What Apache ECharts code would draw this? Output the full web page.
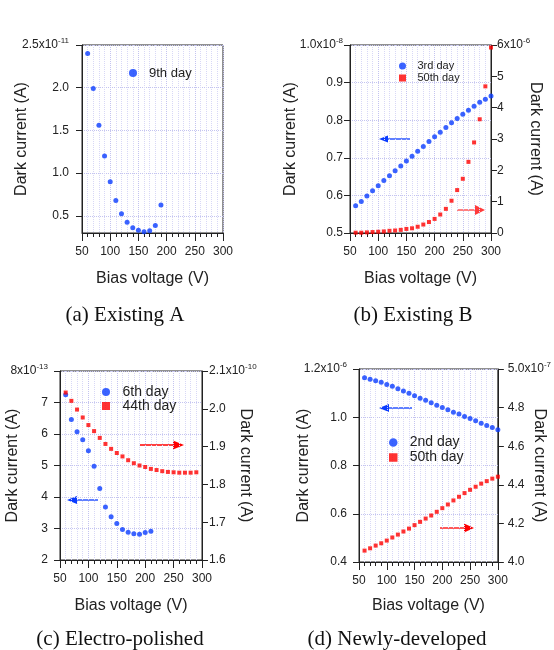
<!DOCTYPE html>
<html>
<head>
<meta charset="utf-8">
<script src="https://cdn.jsdelivr.net/npm/echarts@6/dist/echarts.min.js"></script>
<style>
  html, body { margin: 0; padding: 0; background: #fff; }
  #chart { width: 554px; height: 650px; }
</style>
</head>
<body>
<div id="chart"></div>
<script>
// (a) Existing A
const voltsA = [60, 70, 80, 90, 100, 110, 120, 130, 140, 150, 160, 170, 180, 190];
const day9 = [2.40, 1.99, 1.56, 1.20, 0.90, 0.68, 0.525, 0.427, 0.362, 0.331, 0.315, 0.327, 0.388, 0.627];

// (b) Existing B
const voltsB = [60, 70, 80, 90, 100, 110, 120, 130, 140, 150, 160, 170, 180, 190, 200,
  210, 220, 230, 240, 250, 260, 270, 280, 290, 300];
const day3 = [0.5726, 0.5841, 0.5982, 0.6124, 0.6257, 0.6398, 0.6522, 0.6655, 0.6779, 0.6912,
  0.7044, 0.7177, 0.7301, 0.7434, 0.7558, 0.7681, 0.7805, 0.7929, 0.8044, 0.8159,
  0.8265, 0.8372, 0.8478, 0.8558, 0.8646];
const day50B = [0.01, 0.01, 0.02, 0.03, 0.04, 0.05, 0.07, 0.08, 0.10, 0.13,
  0.15, 0.20, 0.27, 0.35, 0.45, 0.59, 0.77, 1.03, 1.37, 1.73,
  2.27, 2.89, 3.63, 4.68, 5.92];

// (c) Electro-polished
const voltsC6 = [60, 70, 80, 90, 100, 110, 120, 130, 140, 150, 160, 170, 180, 190, 200, 210];
const day6 = [7.25, 6.46, 6.07, 5.82, 5.47, 4.98, 4.27, 3.68, 3.37, 3.16, 2.97, 2.88, 2.83, 2.82, 2.87, 2.91];
const voltsC44 = [60, 70, 80, 90, 100, 110, 120, 130, 140, 150, 160, 170, 180, 190, 200,
  210, 220, 230, 240, 250, 260, 270, 280, 290];
const day44 = [2.043, 2.021, 1.998, 1.977, 1.957, 1.941, 1.923, 1.907, 1.894, 1.883,
  1.874, 1.864, 1.856, 1.850, 1.846, 1.841, 1.838, 1.835, 1.833, 1.832,
  1.831, 1.831, 1.831, 1.832];

// (d) Newly-developed
const voltsD = voltsB;
const day2 = [1.164, 1.158, 1.151, 1.145, 1.136, 1.128, 1.118, 1.109, 1.099, 1.089,
  1.079, 1.070, 1.060, 1.050, 1.040, 1.031, 1.021, 1.013, 1.003, 0.995,
  0.985, 0.975, 0.966, 0.957, 0.948];
const day50D = [4.059, 4.071, 4.085, 4.097, 4.111, 4.127, 4.142, 4.158, 4.173, 4.191,
  4.208, 4.225, 4.241, 4.260, 4.279, 4.298, 4.319, 4.338, 4.357, 4.374,
  4.390, 4.406, 4.419, 4.432, 4.442];

const aTicks = [0.5, 1.0, 1.5, 2.0, 2.5];
const captions = ['(a) Existing A', '(b) Existing B', '(c) Electro-polished', '(d) Newly-developed'];

const BLUE = '#0a3cff';
const RED = '#ff0000';
const INK = '#222';
const GRID_C = '#c4c4f0';
const SQUARE = 'path://M0,0H10V10H0Z';

const pairs = (xs, ys) => xs.map((x, i) => [x, ys[i]]);

function topLabel(top, mant, exp, digits) {
  return function (v) {
    if (Math.abs(v - top) < 1e-9) return '{m|' + mant + 'x10}{s|' + exp + '}';
    return v.toFixed(digits);
  };
}

const rich = {
  m: { fontSize: 12, color: INK },
  s: { fontSize: 8, color: INK, padding: [0, 0, 9, 0] }
};

function xAxis(gi, gap) {
  return {
    type: 'value', gridIndex: gi, min: 50, max: 300, interval: 50,
    name: 'Bias voltage (V)', nameLocation: 'middle', nameGap: gap, nameMoveOverlap: false,
    nameTextStyle: { fontSize: 16, color: INK },
    axisLine: { onZero: false, lineStyle: { color: INK } },
    axisTick: { length: 8, lineStyle: { color: INK } },
    minorTick: { show: true, splitNumber: 5, length: 4, lineStyle: { color: INK } },
    axisLabel: { fontSize: 12, color: INK, margin: 13 },
    splitLine: { show: true, lineStyle: { color: GRID_C, type: 'dotted' } },
    minorSplitLine: { show: true, lineStyle: { color: '#d8d8f6', type: 'dotted' } }
  };
}

function yAxis(gi, side, min, max, interval, fmt, gap, margin) {
  return {
    type: 'value', gridIndex: gi, position: side, min: min, max: max, interval: interval,
    name: 'Dark current (A)', nameLocation: 'middle', nameGap: gap, nameMoveOverlap: false,
    nameRotate: side === 'left' ? 90 : -90,
    nameTextStyle: { fontSize: 16, color: INK },
    axisLine: { show: true, onZero: false, lineStyle: { color: INK } },
    axisTick: { show: true, length: 6, lineStyle: { color: INK } },
    axisLabel: { fontSize: 12, color: INK, margin: margin, formatter: fmt, rich: rich },
    splitLine: { show: side === 'left', lineStyle: { color: GRID_C, type: 'dotted' } }
  };
}

function arrow(x1, x2, y, color, dir, len, half) {
  // dir = -1 points left, 1 points right
  const tip = dir < 0 ? x1 : x2;
  const base = tip - dir * len;
  return {
    type: 'group', silent: true,
    children: [
      { type: 'line', shape: { x1: dir < 0 ? base : x1, y1: y, x2: dir < 0 ? x2 : base, y2: y },
        style: { stroke: color, lineWidth: 1.3 } },
      { type: 'polygon', shape: { points: [[tip, y], [base, y - half], [base, y + half]] },
        style: { fill: color } }
    ]
  };
}

const yA = yAxis(0, 'left', 0.3, 2.5, null, topLabel(2.5, '2.5', '-11', 1), 52, 13);
yA.axisLabel.customValues = aTicks;
yA.axisTick.customValues = aTicks;

const chart = echarts.init(document.getElementById('chart'), null, { renderer: 'canvas' });

const option = {
  animation: false,
  backgroundColor: '#fff',
  textStyle: { fontFamily: 'Liberation Sans, Arial, sans-serif' },
  title: captions.map((t, i) => ({
    text: t,
    left: [125, 413, 120, 397][i],
    top: [305, 305, 629, 629][i],
    padding: 0,
    textAlign: 'center',
    textStyle: { fontFamily: 'Liberation Serif, Times New Roman, serif', fontSize: 21, fontWeight: 'normal', color: '#111' }
  })),
  grid: [
    { left: 82, top: 45, width: 141, height: 188 },
    { left: 350, top: 45, width: 141, height: 188 },
    { left: 60, top: 371, width: 142, height: 189 },
    { left: 359, top: 369, width: 141, height: 193 }
  ].map(g => Object.assign(g, { show: true, borderColor: INK, borderWidth: 1, backgroundColor: 'transparent' })),
  xAxis: [xAxis(0, 38), xAxis(1, 38), xAxis(2, 38), xAxis(3, 36)],
  yAxis: [
    yA,
    yAxis(1, 'left', 0.5, 1.0, 0.1, topLabel(1.0, '1.0', '-8', 1), 51, 7),
    yAxis(1, 'right', 0, 6, 1, topLabel(6, '6', '-6', 0), 36, 6),
    yAxis(2, 'left', 2, 8, 1, topLabel(8, '8', '-13', 0), 39, 12),
    yAxis(2, 'right', 1.6, 2.1, 0.1, topLabel(2.1, '2.1', '-10', 1), 35, 7),
    yAxis(3, 'left', 0.4, 1.2, 0.2, topLabel(1.2, '1.2', '-6', 1), 47, 12),
    yAxis(3, 'right', 4.0, 5.0, 0.2, topLabel(5.0, '5.0', '-7', 1), 34, 10)
  ],
  legend: [
    { left: 129, top: 66, orient: 'vertical', padding: 0, itemWidth: 22, itemHeight: 8, itemGap: 0,
      textStyle: { fontSize: 13, color: INK, lineHeight: 14 },
      data: [{ name: '9th day', icon: 'circle' }] },
    { left: 399, top: 60, orient: 'vertical', padding: 0, itemWidth: 20, itemHeight: 7, itemGap: 0,
      textStyle: { fontSize: 11, color: INK, lineHeight: 12 },
      data: [{ name: '3rd day', icon: 'circle' }, { name: '50th day', icon: SQUARE }] },
    { left: 102, top: 385, orient: 'vertical', padding: 0, itemWidth: 23, itemHeight: 8, itemGap: 0,
      textStyle: { fontSize: 14, color: INK, lineHeight: 14 },
      data: [{ name: '6th day', icon: 'circle' }, { name: '44th day', icon: SQUARE }] },
    { left: 389, top: 435, orient: 'vertical', padding: 0, itemWidth: 23, itemHeight: 8.5, itemGap: 0,
      textStyle: { fontSize: 14, color: INK, lineHeight: 15 },
      data: [{ name: '2nd day', icon: 'circle' }, { name: '50th day', icon: SQUARE }] }
  ],
  series: [
    { name: '9th day', type: 'scatter', xAxisIndex: 0, yAxisIndex: 0, symbol: 'circle', symbolSize: 5,
      itemStyle: { color: BLUE }, data: pairs(voltsA, day9) },
    { name: '3rd day', type: 'scatter', xAxisIndex: 1, yAxisIndex: 1, symbol: 'circle', symbolSize: 5,
      itemStyle: { color: BLUE }, data: pairs(voltsB, day3) },
    { name: '50th day', type: 'scatter', xAxisIndex: 1, yAxisIndex: 2, symbol: 'rect', symbolSize: 4,
      itemStyle: { color: RED }, data: pairs(voltsB, day50B) },
    { name: '6th day', type: 'scatter', xAxisIndex: 2, yAxisIndex: 3, symbol: 'circle', symbolSize: 5,
      itemStyle: { color: BLUE }, data: pairs(voltsC6, day6) },
    { name: '44th day', type: 'scatter', xAxisIndex: 2, yAxisIndex: 4, symbol: 'rect', symbolSize: 4,
      itemStyle: { color: RED }, data: pairs(voltsC44, day44) },
    { name: '2nd day', type: 'scatter', xAxisIndex: 3, yAxisIndex: 5, symbol: 'circle', symbolSize: 5,
      itemStyle: { color: BLUE }, data: pairs(voltsD, day2) },
    { name: '50th day', type: 'scatter', xAxisIndex: 3, yAxisIndex: 6, symbol: 'rect', symbolSize: 4,
      itemStyle: { color: RED }, data: pairs(voltsD, day50D) }
  ],
  graphic: [
    arrow(379, 410, 139, BLUE, -1, 9, 3.5),
    arrow(457, 485, 210, '#ff3b3b', 1, 10, 5),
    arrow(140, 184, 445, RED, 1, 11, 4.5),
    arrow(67, 98, 500, BLUE, -1, 10, 4),
    arrow(379, 412, 408, BLUE, -1, 10, 4),
    arrow(440, 474, 528, RED, 1, 10, 4.5)
  ]
};

chart.setOption(option);
</script>
</body>
</html>
